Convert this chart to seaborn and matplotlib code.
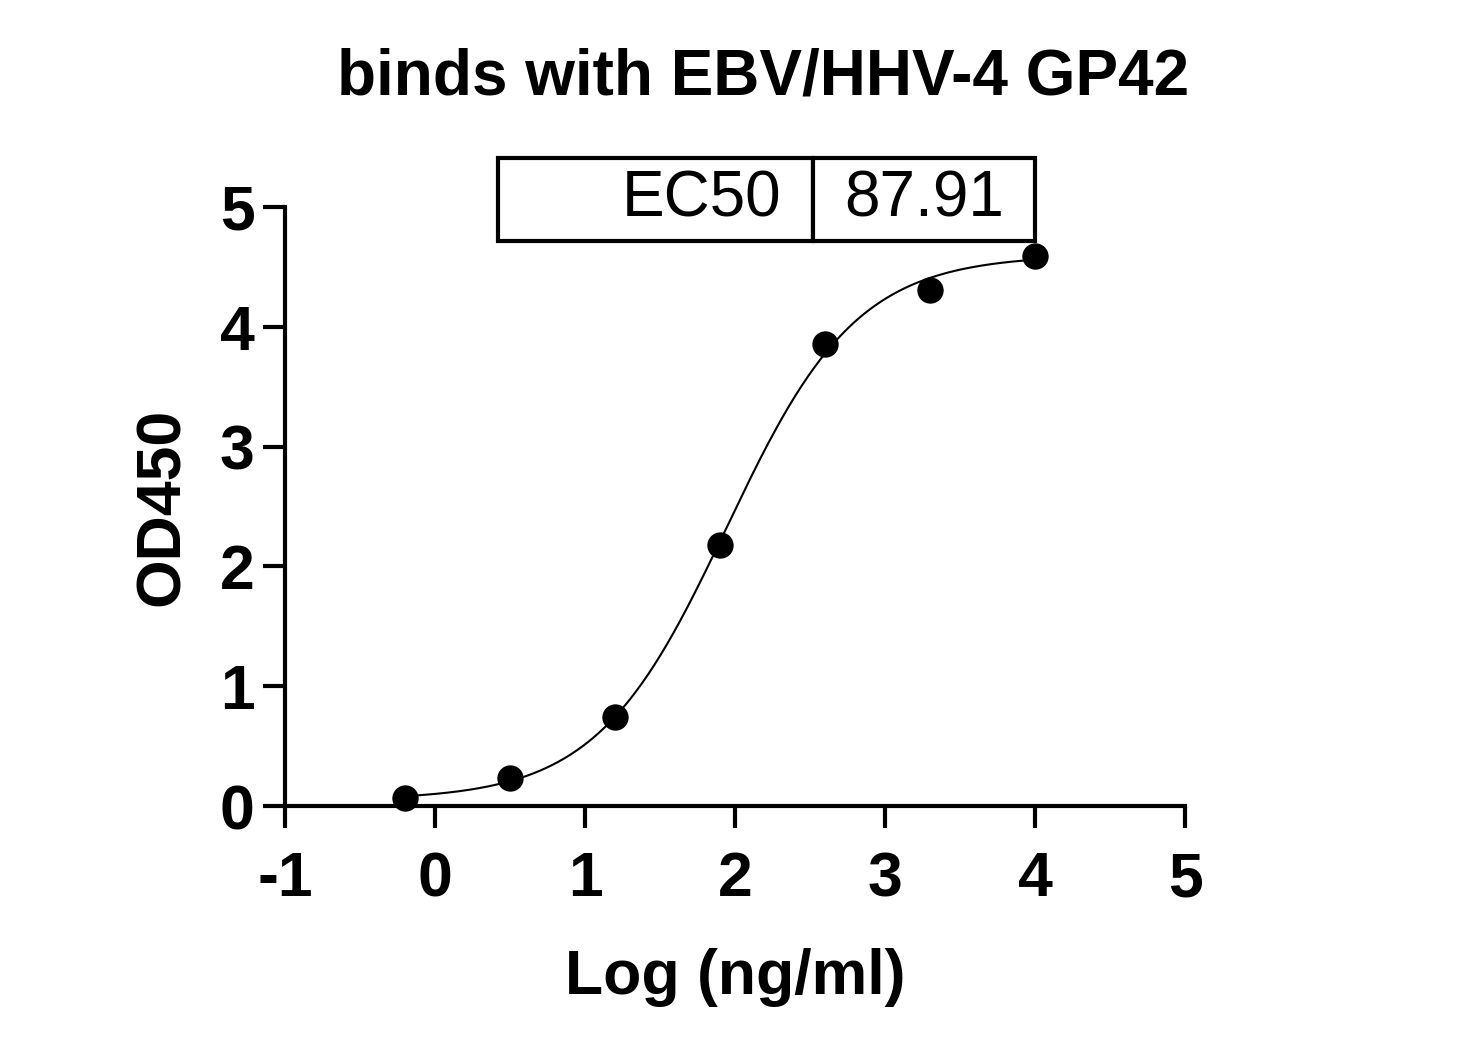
import numpy as np
import pandas as pd
import matplotlib
matplotlib.use("Agg")
import matplotlib.pyplot as plt
import seaborn as sns

# Data
log_conc = [-0.2, 0.5, 1.2, 1.9, 2.6, 3.3, 4.0]
od450 = [0.07, 0.23, 0.74, 2.18, 3.86, 4.31, 4.59]

# 4PL fit parameters
fit_bottom = 0.05
fit_top = 4.6
fit_ec50 = 87.91
fit_hill = 1.0

title = "binds with EBV/HHV-4 GP42"
xlabel = "Log (ng/ml)"
ylabel = "OD450"
xticks = [-1, 0, 1, 2, 3, 4, 5]
yticks = [0, 1, 2, 3, 4, 5]

sns.set_theme(style="ticks")
plt.rcParams['font.family'] = ['Liberation Sans', 'DejaVu Sans']
plt.rcParams['text.color'] = 'black'
plt.rcParams['axes.labelcolor'] = 'black'

fig = plt.figure(figsize=(14.73, 10.56), dpi=100)
ax = fig.add_axes([0.1935, 0.2367, 0.611, 0.5673])

df = pd.DataFrame({"x": log_conc, "y": od450})
xs = np.linspace(min(log_conc), max(log_conc), 400)
ys = fit_bottom + (fit_top - fit_bottom) / (1 + 10 ** ((np.log10(fit_ec50) - xs) * fit_hill))
sns.lineplot(x=xs, y=ys, ax=ax, color="black", linewidth=1.5)
sns.scatterplot(data=df, x="x", y="y", ax=ax, color="black", s=360, edgecolor="black",
                linewidth=0, zorder=5, clip_on=False)

ax.set_xlim(-1, 5)
ax.set_ylim(0, 5)
ax.set_xticks(xticks)
ax.set_yticks(yticks)
ax.set_xticklabels([str(t) for t in xticks])
ax.set_yticklabels([str(t) for t in yticks])
for s in ["top", "right"]:
    ax.spines[s].set_visible(False)
for s in ["left", "bottom"]:
    ax.spines[s].set_linewidth(3.0)
    ax.spines[s].set_color("black")
ax.tick_params(axis="both", direction="out", length=16, width=3.0, colors="black",
               labelsize=45)
ax.tick_params(axis="x", pad=16)
ax.tick_params(axis="y", pad=6)
for lbl in ax.get_xticklabels() + ax.get_yticklabels():
    lbl.set_fontweight("bold")
ax.set_xlabel(xlabel, fontsize=45, fontweight="bold", labelpad=28, color="black")
ax.set_ylabel(ylabel, fontsize=45, fontweight="bold", labelpad=20, color="black")
fig.text(0.518, 0.927, title, fontsize=46, fontweight="bold", ha="center", va="center",
         color="black")

# EC50 table
tbl = ax.table(cellText=[["EC50", f"{fit_ec50:.2f}"]], cellLoc="center",
               bbox=[0.2367, 0.9432, 0.5967, 0.1386],
               colWidths=[0.5865, 0.4135])
tbl.auto_set_font_size(False)
for (r, c), cell in tbl.get_celld().items():
    cell.set_linewidth(3.0)
    cell.set_edgecolor("black")
    cell.set_facecolor("white")
    cell.get_text().set_fontsize(46)
    cell.get_text().set_color("black")
    if c == 0:
        cell._loc = "right"
        cell.get_text().set_ha("right")
    cell.set_clip_on(False)

fig.savefig("out.png", dpi=100, facecolor="white")
